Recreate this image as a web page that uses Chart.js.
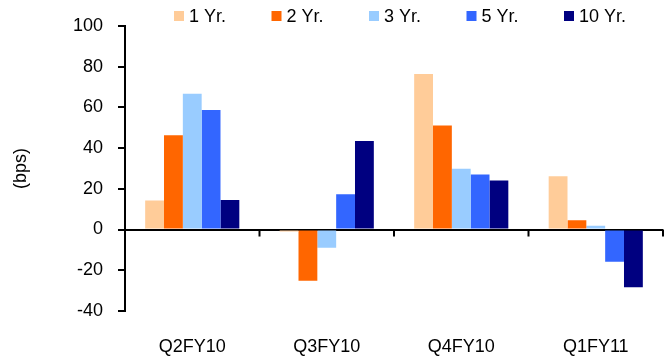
<!DOCTYPE html>
<html>
<head>
<meta charset="utf-8">
<script src="https://cdn.jsdelivr.net/npm/chart.js@4.4.1/dist/chart.umd.min.js"></script>
<style>
  html, body { margin: 0; padding: 0; background: #fff; }
  #wrap { width: 670px; height: 360px; }
</style>
</head>
<body>
<div id="wrap"><canvas id="chart" width="670" height="360"></canvas></div>
<script>
// chart data
const quarters = ['Q2FY10', 'Q3FY10', 'Q4FY10', 'Q1FY11'];
const seriesNames = ['1 Yr.', '2 Yr.', '3 Yr.', '5 Yr.', '10 Yr.'];
const seriesColors = ['#FFCC99', '#FF6600', '#99CCFF', '#3366FF', '#000080'];
const oneYr = [14.2, -1, 76.3, 26.1];
const twoYr = [46.3, -25.2, 51.1, 4.6];
const threeYr = [66.6, -8.9, 29.8, 1.9];
const fiveYr = [58.7, 17.3, 27, -15.8];
const tenYr = [14.5, 43.4, 24.1, -28.4];
const yTicks = [-40, -20, 0, 20, 40, 60, 80, 100];

const FONT = 'Liberation Sans, Arial, sans-serif';
const allSeries = [oneYr, twoYr, threeYr, fiveYr, tenYr];

// small tick marks on the zero line between categories
const catTicks = {
  id: 'catTicks',
  afterDatasetsDraw(chart) {
    const x = chart.scales.x, y = chart.scales.y;
    const y0 = y.getPixelForValue(0);
    const ctx = chart.ctx;
    ctx.save();
    ctx.strokeStyle = '#000';
    ctx.lineWidth = 2;
    for (let i = 1; i <= quarters.length; i++) {
      const px = i < quarters.length
        ? (x.getPixelForValue(i - 1) + x.getPixelForValue(i)) / 2
        : chart.chartArea.right;
      ctx.beginPath();
      ctx.moveTo(px, y0);
      ctx.lineTo(px, y0 + 7);
      ctx.stroke();
    }
    ctx.restore();
  }
};

// legend row across the top
const topLegend = {
  id: 'topLegend',
  afterDraw(chart) {
    const ctx = chart.ctx;
    ctx.save();
    ctx.font = '18px ' + FONT;
    ctx.textBaseline = 'middle';
    let left = 174;
    seriesNames.forEach((name, i) => {
      ctx.fillStyle = seriesColors[i];
      ctx.fillRect(left, 11, 10, 10);
      ctx.fillStyle = '#000';
      ctx.fillText(name, left + 15, 17);
      left += 97.5;
    });
    ctx.restore();
  }
};

new Chart(document.getElementById('chart'), {
  type: 'bar',
  data: {
    labels: quarters,
    datasets: seriesNames.map((name, i) => ({
      label: name,
      data: allSeries[i],
      backgroundColor: seriesColors[i],
      borderWidth: 0,
      barPercentage: 1,
      categoryPercentage: 0.7
    }))
  },
  options: {
    responsive: false,
    animation: false,
    layout: { padding: { top: 22, right: 7, left: 0, bottom: 0 } },
    plugins: {
      legend: { display: false },
      tooltip: { enabled: false }
    },
    scales: {
      x: {
        grid: { display: false, drawTicks: false },
        border: { display: false },
        ticks: { color: '#000', font: { family: FONT, size: 18 }, padding: 25, maxRotation: 0 },
        afterFit(scale) { scale.height = 49; }
      },
      y: {
        min: -40,
        max: 100,
        afterBuildTicks(scale) { scale.ticks = yTicks.map(v => ({ value: v })); },
        grid: {
          color: ctx => (ctx.tick && ctx.tick.value === 0 ? '#000' : 'rgba(0,0,0,0)'),
          lineWidth: 2,
          tickColor: '#000',
          tickWidth: 2,
          tickLength: 7
        },
        border: { display: true, color: '#000', width: 2 },
        ticks: { color: '#000', font: { family: FONT, size: 18 }, padding: 15 },
        title: {
          display: true,
          text: '(bps)',
          color: '#000',
          font: { family: FONT, size: 18 },
          padding: { top: 10, bottom: 0 }
        },
        afterFit(scale) { scale.width = 125; }
      }
    }
  },
  plugins: [catTicks, topLegend]
});
</script>
</body>
</html>
